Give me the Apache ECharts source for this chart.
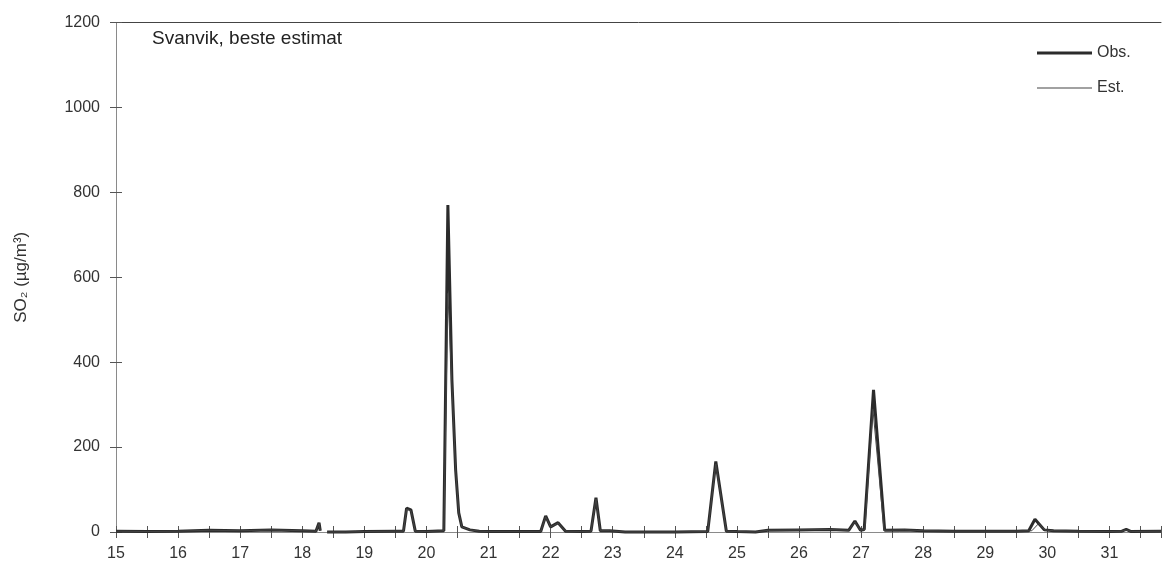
<!DOCTYPE html>
<html>
<head>
<meta charset="utf-8">
<script src="https://cdn.jsdelivr.net/npm/echarts@6/dist/echarts.min.js"></script>
<style>
  html, body { margin: 0; padding: 0; background: #fff; }
  #chart { width: 1164px; height: 576px; }
</style>
</head>
<body>
<div id="chart"></div>
<script>
// dag i måneden (timesverdier, lest av figuren); null = hull i serien
const obsDays = [15.0, 15.5, 16.0, 16.5, 17.0, 17.5, 18.0, 18.22, 18.27, 18.29, 18.33, 18.4, 18.7, 19.0, 19.5,
  19.63, 19.68, 19.75, 19.82, 20.0, 20.28, 20.345, 20.41, 20.47, 20.52, 20.57, 20.7, 20.85, 21.0, 21.5, 21.84, 21.92,
  22.0, 22.12, 22.24, 22.5, 22.65, 22.73, 22.8, 22.95, 23.2, 24.0, 24.53, 24.66, 24.83, 25.0, 25.3,
  25.5, 26.0, 26.5, 26.8, 26.9, 26.99, 27.05, 27.2, 27.38, 27.7, 28.0, 28.5, 29.0, 29.5, 29.7,
  29.8, 29.95, 30.1, 30.5, 31.0, 31.2, 31.27, 31.35, 31.83];
const obsValues = [2, 1, 2, 4, 3, 5, 3, 2, 22, 3, null, 0, 0, 1, 2,
  2, 56, 52, 2, 1, 3, 770, 358, 146, 45, 12, 5, 2, 1, 1, 1, 38,
  12, 22, 2, 1, 2, 81, 3, 3, 0, 0, 1, 166, 2, 1, 0,
  4, 5, 6, 4, 26, 4, 6, 335, 4, 5, 3, 2, 2, 2, 3,
  30, 5, 3, 2, 1, 2, 6, 1, 2];

const estDays = [15.0, 15.5, 16.0, 16.5, 17.0, 17.5, 18.0, 18.22, 18.27, 18.29, 18.33, 18.4, 18.7, 19.0, 19.5,
  19.63, 19.68, 19.75, 19.82, 20.0, 20.28, 20.345, 20.47, 20.52, 20.57, 20.7, 20.85, 21.0, 21.5, 21.84, 21.92,
  22.0, 22.12, 22.24, 22.5, 22.65, 22.73, 22.8, 22.95, 23.2, 24.0, 24.53, 24.66, 24.83, 25.0, 25.3,
  25.5, 26.0, 26.5, 26.8, 26.9, 26.99, 27.06, 27.19, 27.37, 27.7, 28.0, 28.5, 29.0, 29.5, 29.75,
  29.86, 29.96, 30.1, 30.5, 31.0, 31.2, 31.27, 31.35, 31.83];
const estValues = [2, 1, 2, 4, 3, 5, 3, 2, 20, 3, null, 0, 0, 1, 2,
  2, 54, 50, 2, 1, 3, 562, 146, 45, 12, 5, 2, 1, 1, 1, 36,
  12, 21, 2, 1, 2, 78, 3, 3, 0, 0, 1, 160, 2, 1, 0,
  4, 5, 6, 4, 24, 4, 6, 290, 4, 5, 3, 2, 2, 2, 3,
  20, 5, 3, 2, 1, 2, 5, 1, 2];

const yTicks = [0, 200, 400, 600, 800, 1000, 1200];

const toPairs = (xs, ys) => xs.map((d, i) => [d, ys[i]]);

const chart = echarts.init(document.getElementById('chart'));

const axisGray = '#8a8a8a';
const inkColor = '#2b2b2b';
const font = 'Liberation Sans, Arial, sans-serif';

const xBase = { type: 'value', min: 15, max: 31.83, interval: 0.5, splitLine: { show: false } };
const yBase = { type: 'value', min: yTicks[0], max: yTicks[yTicks.length - 1], interval: 200, splitLine: { show: false } };

const legendBase = {
  orient: 'vertical',
  left: 1037,
  padding: 0,
  itemWidth: 55,
  icon: 'rect',
  selectedMode: false,
  textStyle: { fontFamily: font, fontSize: 16, color: '#333' }
};

chart.setOption({
  animation: false,
  backgroundColor: '#fff',
  title: {
    text: 'Svanvik, beste estimat',
    left: 152,
    top: 29,
    padding: 0,
    textStyle: { fontFamily: font, fontSize: 19, fontWeight: 'normal', color: '#222' }
  },
  legend: [
    Object.assign({}, legendBase, {
      top: 45, itemHeight: 3,
      data: [{ name: 'Obs.', itemStyle: { color: inkColor } }]
    }),
    Object.assign({}, legendBase, {
      top: 80, itemHeight: 1,
      data: [{ name: 'Est.', itemStyle: { color: '#444' } }]
    })
  ],
  grid: { left: 116, right: 0, top: 22.5, bottom: 44 },
  xAxis: [
    Object.assign({}, xBase, {
      position: 'bottom',
      axisLine: { show: true, lineStyle: { color: axisGray, width: 1 } },
      axisTick: { show: true, inside: false, length: 6, lineStyle: { color: '#555' } },
      axisLabel: {
        margin: 14,
        fontFamily: font, fontSize: 16, color: '#333',
        formatter: v => (Math.abs(v - Math.round(v)) < 1e-6 ? String(Math.round(v)) : '')
      }
    }),
    Object.assign({}, xBase, {
      position: 'bottom',
      offset: -6,
      axisLine: { show: false },
      axisTick: { show: true, inside: false, length: 6, lineStyle: { color: '#555' } },
      axisLabel: { show: false }
    }),
    Object.assign({}, xBase, {
      position: 'top',
      axisLine: { show: true, lineStyle: { color: '#444', width: 1 } },
      axisTick: { show: false },
      axisLabel: { show: false }
    })
  ],
  yAxis: [
    Object.assign({}, yBase, {
      position: 'left',
      name: 'SO₂ (µg/m³)',
      nameLocation: 'middle',
      nameGap: 86,
      nameTextStyle: { fontFamily: font, fontSize: 17, color: '#333' },
      axisLine: { show: true, lineStyle: { color: axisGray, width: 1 } },
      axisTick: { show: true, inside: false, length: 6, lineStyle: { color: '#555' } },
      axisLabel: { margin: 16, fontFamily: font, fontSize: 16, color: '#333', formatter: v => String(v) }
    }),
    Object.assign({}, yBase, {
      position: 'left',
      offset: -6,
      axisLine: { show: false },
      axisTick: { show: true, inside: false, length: 6, lineStyle: { color: '#555' } },
      axisLabel: { show: false }
    })
  ],
  series: [
    {
      name: 'Obs.',
      type: 'line',
      xAxisIndex: 0,
      yAxisIndex: 0,
      showSymbol: false,
      symbol: 'none',
      connectNulls: false,
      clip: false,
      lineStyle: { color: inkColor, width: 3 },
      itemStyle: { color: inkColor },
      data: toPairs(obsDays, obsValues)
    },
    {
      name: 'Est.',
      type: 'line',
      xAxisIndex: 0,
      yAxisIndex: 0,
      showSymbol: false,
      symbol: 'none',
      connectNulls: false,
      clip: false,
      lineStyle: { color: '#444', width: 1 },
      itemStyle: { color: '#444' },
      data: toPairs(estDays, estValues)
    },
    {
      // tom serie slik at tikk-aksene blir tegnet
      name: 'tikker',
      type: 'line',
      xAxisIndex: 1,
      yAxisIndex: 1,
      symbol: 'none',
      silent: true,
      data: []
    }
  ]
});
</script>
</body>
</html>
